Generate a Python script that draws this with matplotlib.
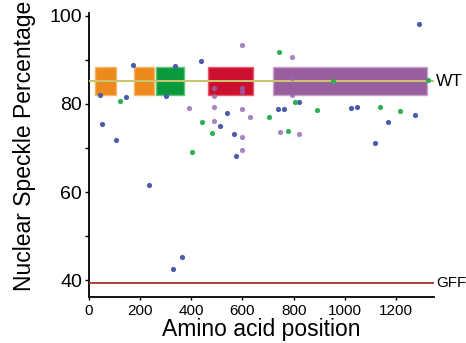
import matplotlib
matplotlib.use("Agg")
import matplotlib.pyplot as plt
from matplotlib.patches import Rectangle

plt.rcParams['font.family'] = ['Liberation Sans', 'DejaVu Sans']

# Mutant positions (amino acid) and nuclear speckle percentage
blue_pos = [44, 49, 106, 144, 173, 235, 300, 329, 335, 364, 436, 513, 539, 565,
            576, 737, 763, 819, 1023, 1049, 1119, 1169, 1276, 1289]
blue_pct = [82.1, 75.5, 71.8, 81.5, 88.8, 61.7, 81.7, 42.6, 88.7, 45.2, 89.7, 75.0,
            78.0, 73.1, 68.2, 78.8, 78.9, 80.5, 79.0, 79.4, 71.1, 75.8, 77.4, 98.1]

green_pos = [121, 401, 440, 479, 704, 744, 778, 804, 892, 953, 1137, 1217, 1326]
green_pct = [80.7, 69.1, 75.9, 73.4, 77.1, 91.8, 73.8, 80.5, 78.6, 85.2, 79.2, 78.4, 85.5]

purple_pos = [389, 487, 487, 487, 487, 598, 598, 598, 598, 598, 598, 631, 746,
              793, 793, 793, 820]
purple_pct = [79.1, 83.6, 81.7, 79.4, 76.1, 93.4, 83.6, 82.7, 78.9, 72.4, 69.5, 77.1,
              73.6, 90.7, 85.9, 82.0, 73.1]

# Protein domains: start, end
domain_start = [24, 177, 263, 464, 718]
domain_end = [106, 255, 371, 640, 1320]
domain_color = ['#EE8A1C', '#EE8A1C', '#0A9A3E', '#CC0F2F', '#995E9E']
domain_edge = ['#F6B36A', '#F6B36A', '#5CC77A', '#E85A6C', '#C9A3CC']
box_low, box_high = 82.1, 88.3

wt_level = 85.1
gff_level = 39.4

fig = plt.figure(figsize=(4.66, 3.43), dpi=100)
ax = fig.add_axes([0.191, 0.135, 0.74, 0.827])

for s, e, c, ec in zip(domain_start, domain_end, domain_color, domain_edge):
    ax.add_patch(Rectangle((s, box_low), e - s, box_high - box_low,
                           facecolor=c, edgecolor=ec, linewidth=1.0, zorder=2))

ax.axhline(wt_level, color='#C9C46E', lw=1.5, zorder=3)
ax.axhline(gff_level, color='#A8321E', lw=1.3, zorder=3)

ax.scatter(blue_pos, blue_pct, s=14, color='#4C5CAC', lw=0, zorder=4)
ax.scatter(green_pos, green_pct, s=14, color='#2FAF55', lw=0, zorder=4)
ax.scatter(purple_pos, purple_pct, s=14, color='#9566B0', lw=0, alpha=0.8, zorder=4)

ax.text(1357, wt_level, 'WT', fontsize=12.5, va='center', ha='left')
ax.text(1357, gff_level, 'GFF', fontsize=11, va='center', ha='left')

ax.set_xlim(0, 1348)
ax.set_ylim(36.3, 100.6)
ax.set_xticks([0, 200, 400, 600, 800, 1000, 1200])
ax.set_yticks([40, 50, 60, 70, 80, 90, 100])
ax.set_yticklabels(['40', '', '60', '', '80', '', '100'])
ax.tick_params(axis='y', labelsize=14, length=3, width=1, pad=2)
ax.tick_params(axis='x', labelsize=11, length=2, width=1, pad=3)

for side in ['top', 'right']:
    ax.spines[side].set_visible(False)
for side in ['left', 'bottom']:
    ax.spines[side].set_linewidth(1.3)

ax.set_xlabel('Amino acid position', fontsize=16.5, labelpad=0)
ax.set_ylabel('Nuclear Speckle Percentage', fontsize=16.5)
ax.yaxis.set_label_coords(-0.155, 0.53)

fig.savefig('out.png', dpi=100)
